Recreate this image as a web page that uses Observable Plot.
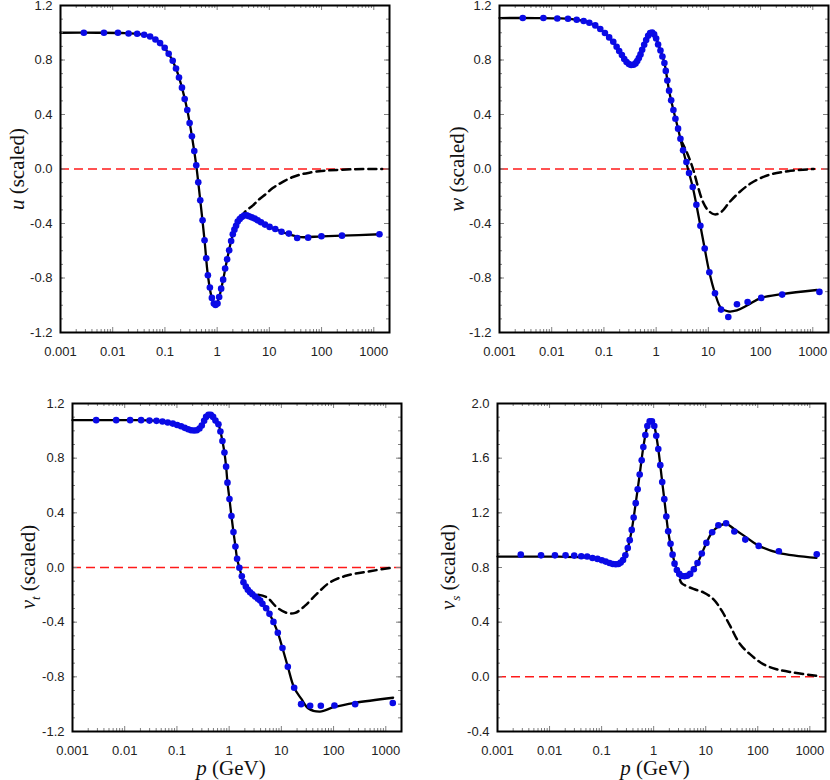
<!DOCTYPE html>
<html>
<head>
<meta charset="utf-8">
<script src="https://cdn.jsdelivr.net/npm/d3@7"></script>
<script src="https://cdn.jsdelivr.net/npm/@observablehq/plot@0.6"></script>
<style>
  body { margin: 0; background: #fff; }
  #chart { position: relative; width: 830px; height: 780px; background: #fff; overflow: hidden; }
  .panel { position: absolute; }
  .ylab, .xlab { position: absolute; font-family: "Liberation Serif", "Times New Roman", serif; font-size: 21px; color: #111; white-space: nowrap; line-height: 0.9; }
  .ylab { transform: translate(-50%, -50%) rotate(-90deg); }
  .xlab { transform: translate(-50%, -50%); }
  .ylab sub { font-size: 13px; vertical-align: -0.45em; line-height: 0; }
</style>
</head>
<body>
<div id="chart"></div>
<script>
// ---------- tick labels ----------
const xTicks = [0.001, 0.01, 0.1, 1, 10, 100, 1000];
const xTickLabels = ["0.001", "0.01", "0.1", "1", "10", "100", "1000"];
const yTicksA = [-1.2, -0.8, -0.4, 0, 0.4, 0.8, 1.2];
const yTicksB = [-0.4, 0, 0.4, 0.8, 1.2, 1.6, 2.0];

// ---------- panel u ----------
const uDotP = [0.0028,0.0068,0.0126,0.0201,0.0294,0.040,0.052,0.0658,0.0807,0.099,0.118,0.141,0.163,0.186,0.212,0.239,0.268,0.297,0.329,0.365,0.398,0.435,0.475,0.526,0.574,0.618,0.665,0.726,0.793,0.865,0.931,1.016,1.094,1.194,1.303,1.422,1.553,1.70,1.853,1.995,2.143,2.306,2.48,2.71,2.96,3.28,3.68,4.08,4.59,5.24,5.97,6.92,8.25,10.1,13.0,17.1,23.6,34.1,55.3,99.3,246,1285];
const uDotV = [1.0,1.0,1.0,0.995,0.993,0.985,0.973,0.951,0.924,0.89,0.846,0.795,0.738,0.672,0.597,0.513,0.433,0.337,0.24,0.132,0.027,-0.098,-0.23,-0.377,-0.523,-0.655,-0.78,-0.87,-0.946,-0.988,-0.998,-0.988,-0.939,-0.878,-0.812,-0.731,-0.663,-0.597,-0.528,-0.479,-0.445,-0.416,-0.386,-0.367,-0.352,-0.342,-0.34,-0.347,-0.355,-0.364,-0.377,-0.391,-0.408,-0.425,-0.44,-0.46,-0.474,-0.506,-0.504,-0.494,-0.489,-0.479];
const uLineP = [0.001,0.005,0.015,0.03,0.05,0.08,0.118,0.163,0.212,0.268,0.329,0.398,0.475,0.574,0.665,0.793,0.931,1.094,1.303,1.553,1.853,2.143,2.48,2.96,3.68,4.59,5.97,8.25,13.0,23.6,40,100,246,1300];
const uLineV = [1.0,1.0,0.998,0.992,0.976,0.926,0.846,0.738,0.597,0.433,0.24,0.027,-0.23,-0.523,-0.78,-0.946,-0.998,-0.939,-0.812,-0.663,-0.528,-0.445,-0.386,-0.352,-0.34,-0.355,-0.377,-0.408,-0.44,-0.48,-0.5,-0.494,-0.489,-0.479];
const uDashP = [2.9,3.4,4.86,6.5,8.73,11.6,15.7,20,28.2,40,58.6,100,141,393,1450];
const uDashV = [-0.36,-0.315,-0.267,-0.22,-0.181,-0.14,-0.108,-0.085,-0.059,-0.04,-0.027,-0.014,-0.01,-0.002,0.0];

// ---------- panel w ----------
const wDotP = [0.00279,0.00693,0.0128,0.0205,0.0301,0.0409,0.0525,0.0683,0.0851,0.1045,0.126,0.151,0.175,0.196,0.221,0.245,0.271,0.301,0.333,0.369,0.403,0.434,0.467,0.502,0.54,0.59,0.644,0.703,0.768,0.839,0.916,1.0,1.09,1.21,1.32,1.44,1.53,1.64,1.77,1.94,2.14,2.34,2.63,2.92,3.28,3.80,4.27,5.02,5.90,7.04,8.51,10.45,13.4,17.5,24.1,35.3,56.5,103,259,1340];
const wDotV = [1.108,1.108,1.105,1.103,1.095,1.086,1.073,1.054,1.027,0.998,0.966,0.934,0.897,0.866,0.836,0.807,0.785,0.770,0.763,0.765,0.775,0.792,0.814,0.841,0.875,0.912,0.946,0.978,0.998,1.002,0.988,0.958,0.914,0.870,0.826,0.778,0.72,0.65,0.575,0.504,0.433,0.369,0.296,0.222,0.137,0.051,-0.029,-0.132,-0.262,-0.416,-0.584,-0.758,-0.912,-1.032,-1.086,-0.993,-0.976,-0.946,-0.922,-0.902];
const wLineP = [0.001,0.005,0.015,0.03,0.05,0.0851,0.126,0.175,0.221,0.271,0.333,0.403,0.467,0.54,0.644,0.768,0.839,0.916,1.0,1.21,1.44,1.77,2.14,2.63,3.28,4.27,5.02,5.90,7.04,8.51,10.45,13.4,17.5,24,35,56,103,259,1200];
const wLineV = [1.108,1.108,1.105,1.095,1.076,1.027,0.966,0.897,0.836,0.785,0.763,0.775,0.814,0.875,0.946,0.998,1.002,0.988,0.958,0.870,0.778,0.575,0.433,0.296,0.137,-0.029,-0.132,-0.262,-0.416,-0.584,-0.758,-0.912,-1.02,-1.045,-1.038,-1.0,-0.946,-0.918,-0.888];
const wDashP = [3.0,3.97,5.09,6.35,7.9,9.86,13.2,17.7,25.6,39.7,66.4,138,333,863,1050];
const wDashV = [0.21,0.112,0.0,-0.132,-0.242,-0.303,-0.333,-0.315,-0.242,-0.169,-0.103,-0.046,-0.017,-0.002,0.0];

// ---------- panel v_t ----------
const vtDotP = [0.00284,0.00686,0.0127,0.0206,0.0298,0.0406,0.0528,0.0668,0.0834,0.101,0.120,0.141,0.164,0.187,0.213,0.240,0.270,0.299,0.332,0.362,0.402,0.445,0.493,0.547,0.624,0.681,0.744,0.813,0.875,0.929,1.014,1.107,1.21,1.32,1.42,1.57,1.75,1.88,2.09,2.28,2.52,2.79,3.15,3.55,3.93,4.34,5.12,5.92,7.06,8.55,10.5,13.3,17.6,23.9,35.6,57.0,104,259,1362];
const vtDotV = [1.078,1.078,1.078,1.078,1.075,1.073,1.068,1.061,1.053,1.043,1.034,1.022,1.012,1.004,1.002,1.004,1.017,1.039,1.073,1.102,1.117,1.117,1.102,1.075,1.048,0.995,0.926,0.841,0.738,0.621,0.501,0.376,0.259,0.154,0.064,-0.002,-0.064,-0.108,-0.139,-0.163,-0.181,-0.196,-0.213,-0.229,-0.242,-0.266,-0.298,-0.339,-0.398,-0.477,-0.589,-0.726,-0.88,-1.0,-1.012,-1.012,-1.01,-1.0,-0.992];
const vtLineP = [0.001,0.005,0.015,0.03,0.0528,0.0834,0.120,0.164,0.213,0.270,0.332,0.402,0.445,0.493,0.547,0.624,0.681,0.744,0.813,0.875,0.929,1.014,1.107,1.21,1.32,1.42,1.57,1.75,2.09,2.52,3.15,3.93,5.12,7.06,8.55,10.5,13.3,17.6,24,33,55,104,259,1380];
const vtLineV = [1.078,1.078,1.078,1.076,1.068,1.053,1.034,1.012,1.002,1.017,1.073,1.117,1.117,1.102,1.075,1.048,0.995,0.926,0.841,0.738,0.621,0.501,0.376,0.259,0.154,0.064,-0.002,-0.064,-0.139,-0.181,-0.213,-0.242,-0.298,-0.398,-0.477,-0.589,-0.726,-0.88,-0.96,-1.032,-1.054,-1.02,-0.99,-0.953];
const vtDashP = [3.6,5.27,8.18,12.7,18.4,28.5,47.7,85.9,180,501,1400];
const vtDashV = [-0.2,-0.218,-0.291,-0.332,-0.332,-0.279,-0.193,-0.108,-0.059,-0.027,0.0];

// ---------- panel v_s ----------
const vsDotP = [0.0028,0.00686,0.0127,0.0203,0.0298,0.0406,0.0528,0.0668,0.0834,0.101,0.120,0.142,0.164,0.187,0.210,0.233,0.258,0.286,0.318,0.347,0.379,0.413,0.452,0.493,0.539,0.589,0.633,0.692,0.756,0.838,0.927,1.028,1.122,1.227,1.34,1.46,1.60,1.75,1.90,2.11,2.31,2.52,2.79,3.10,3.48,3.92,4.41,5.03,5.91,6.95,8.41,10.3,13.3,17.5,24.6,35.5,57.6,104,254,1358];
const vsDotV = [0.894,0.889,0.889,0.889,0.887,0.882,0.880,0.870,0.863,0.853,0.843,0.833,0.826,0.824,0.826,0.836,0.855,0.889,0.943,1.0,1.075,1.166,1.271,1.373,1.481,1.584,1.681,1.769,1.835,1.869,1.869,1.835,1.764,1.667,1.549,1.425,1.30,1.173,1.065,0.973,0.894,0.828,0.782,0.753,0.738,0.736,0.740,0.753,0.787,0.833,0.902,0.980,1.058,1.109,1.124,1.063,1.004,0.958,0.919,0.897];
const vsLineP = [0.001,0.005,0.015,0.03,0.0528,0.0834,0.120,0.164,0.187,0.210,0.258,0.318,0.379,0.452,0.539,0.633,0.756,0.838,0.927,1.028,1.122,1.227,1.34,1.46,1.60,1.75,1.90,2.31,2.79,3.10,3.48,3.92,4.41,5.03,6.95,8.41,10.3,13.3,17.5,24.6,35.5,57.6,104,254,1340];
const vsLineV = [0.880,0.880,0.879,0.876,0.872,0.863,0.843,0.826,0.824,0.826,0.855,0.943,1.075,1.271,1.481,1.681,1.835,1.869,1.869,1.835,1.764,1.667,1.549,1.425,1.30,1.173,1.065,0.894,0.782,0.74,0.73,0.736,0.74,0.753,0.833,0.902,0.98,1.058,1.10,1.12,1.08,1.026,0.96,0.907,0.870];
const vsDashP = [3.2,3.48,5.81,9.04,14.0,20.3,29.3,45.5,70.8,127,229,478,1340];
const vsDashV = [0.71,0.684,0.643,0.618,0.569,0.484,0.374,0.240,0.166,0.093,0.056,0.032,0.007];

// ---------- build ----------
const zip = (P, V) => P.map((p, i) => ({p, v: V[i]}));

const xMinor = [];
for (let k = -3; k <= 3; k++) for (let m = 2; m <= 9; m++) { const t = m * Math.pow(10, k); if (t < 2000) xMinor.push(t); }
const yMinorOf = ([a, b]) => d3.range(Math.round(a * 10), Math.round(b * 10) + 1).map(k => k / 10);

const panels = [
  {left: 0,   top: 0,   mL: 60, mR: 26, mT: 5,  mB: 58, yDomain: [-1.2, 1.2], yTicks: yTicksA,
   dots: zip(uDotP, uDotV), line: zip(uLineP, uLineV), dash: zip(uDashP, uDashV),
   label: '<i>u</i> (scaled)', lx: 17, ly: 168.5, xlab: null},
  {left: 415, top: 0,   mL: 84, mR: 2,  mT: 5,  mB: 58, yDomain: [-1.2, 1.2], yTicks: yTicksA,
   dots: zip(wDotP, wDotV), line: zip(wLineP, wLineV), dash: zip(wDashP, wDashV),
   label: '<i>w</i> (scaled)', lx: 457, ly: 168.5, xlab: null},
  {left: 0,   top: 390, mL: 72, mR: 14, mT: 13, mB: 49, yDomain: [-1.2, 1.2], yTicks: yTicksA,
   dots: zip(vtDotP, vtDotV), line: zip(vtLineP, vtLineV), dash: zip(vtDashP, vtDashV),
   label: '<i>v</i><sub><i>t</i></sub> (scaled)', lx: 28, ly: 567, xlab: [231, 768]},
  {left: 415, top: 390, mL: 82, mR: 5,  mT: 13, mB: 49, yDomain: [-0.4, 2.0], yTicks: yTicksB,
   dots: zip(vsDotP, vsDotV), line: zip(vsLineP, vsLineV), dash: zip(vsDashP, vsDashV),
   label: '<i>v</i><sub><i>s</i></sub> (scaled)', lx: 448, ly: 567, xlab: [655, 768]}
];

const chart = document.getElementById("chart");
const W = 415, H = 390;
const tickColor = "#808080";

for (const c of panels) {
  const fw = W - c.mL - c.mR, fh = H - c.mT - c.mB;
  const yMinor = yMinorOf(c.yDomain);
  const svg = Plot.plot({
    width: W, height: H,
    marginLeft: c.mL, marginRight: c.mR, marginTop: c.mT, marginBottom: c.mB,
    style: {fontFamily: "'Liberation Sans', Arial, sans-serif", fontSize: "13px", color: "#222", background: "transparent", overflow: "visible"},
    x: {type: "log", domain: [0.001, 2000]},
    y: {domain: c.yDomain},
    marks: [
      Plot.ruleY([0], {stroke: "#ff1a1a", strokeWidth: 1.5, strokeDasharray: "9,5"}),
      Plot.line(c.dash, {x: "p", y: "v", stroke: "black", strokeWidth: 2.5, strokeDasharray: "8,5", curve: "catmull-rom"}),
      Plot.line(c.line, {x: "p", y: "v", stroke: "black", strokeWidth: 2.3, curve: "catmull-rom"}),
      Plot.dot(c.dots, {x: "p", y: "v", r: 3.3, fill: "#0a0ae6", stroke: "none"}),
      // inward ticks on all four sides
      Plot.tickX(xMinor, {x: d => d, stroke: tickColor, insetTop: fh - 3}),
      Plot.tickX(xMinor, {x: d => d, stroke: tickColor, insetBottom: fh - 3}),
      Plot.tickX(xTicks, {x: d => d, stroke: tickColor, insetTop: fh - 5}),
      Plot.tickX(xTicks, {x: d => d, stroke: tickColor, insetBottom: fh - 5}),
      Plot.tickY(yMinor, {y: d => d, stroke: tickColor, insetRight: fw - 3}),
      Plot.tickY(yMinor, {y: d => d, stroke: tickColor, insetLeft: fw - 3}),
      Plot.tickY(c.yTicks, {y: d => d, stroke: tickColor, insetRight: fw - 5}),
      Plot.tickY(c.yTicks, {y: d => d, stroke: tickColor, insetLeft: fw - 5}),
      Plot.frame({stroke: "black", strokeWidth: 2}),
      Plot.axisX(xTicks, {anchor: "bottom", tickSize: 0, tickPadding: 14, label: null, fill: "#222",
        tickFormat: d => xTickLabels[xTicks.indexOf(d)]}),
      Plot.axisY(c.yTicks, {anchor: "left", tickSize: 0, tickPadding: 8, label: null, fill: "#222",
        tickFormat: d => d.toFixed(1)})
    ]
  });
  svg.classList.add("panel");
  svg.style.left = c.left + "px";
  svg.style.top = c.top + "px";
  chart.appendChild(svg);

  const yl = document.createElement("div");
  yl.className = "ylab";
  yl.innerHTML = c.label;
  yl.style.left = c.lx + "px";
  yl.style.top = c.ly + "px";
  chart.appendChild(yl);

  if (c.xlab) {
    const xl = document.createElement("div");
    xl.className = "xlab";
    xl.innerHTML = '<i>p</i> (GeV)';
    xl.style.left = c.xlab[0] + "px";
    xl.style.top = c.xlab[1] + "px";
    chart.appendChild(xl);
  }
}
</script>
</body>
</html>
